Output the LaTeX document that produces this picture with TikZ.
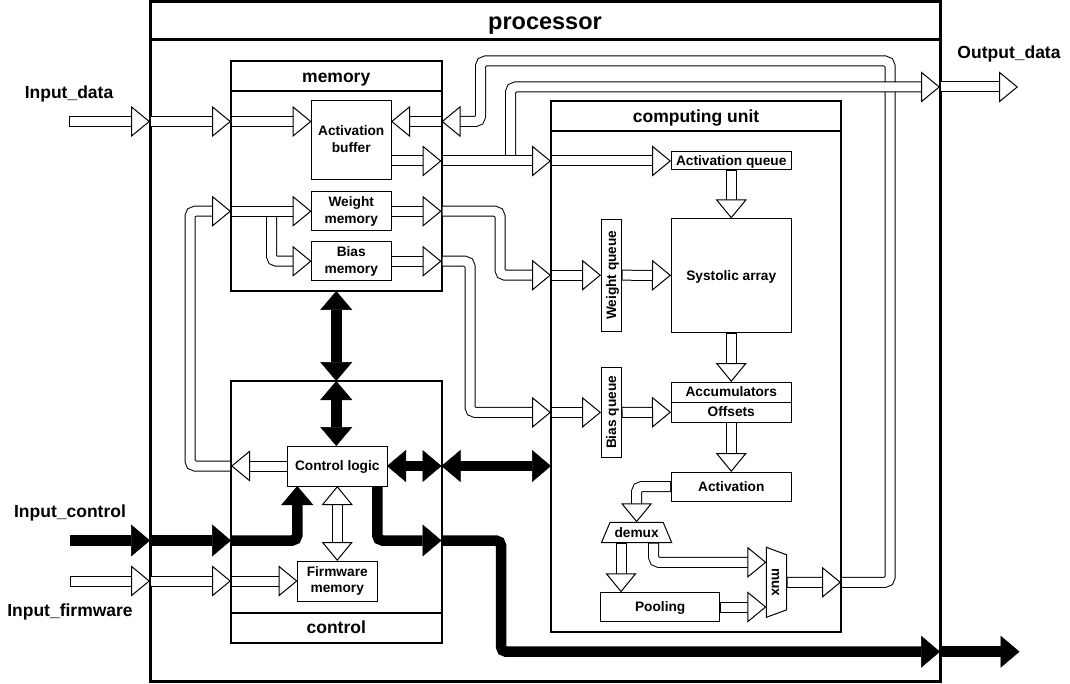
\documentclass[tikz,border=0pt]{standalone}
\usepackage{fontspec}
\setmainfont{Liberation Sans}
\usetikzlibrary{shapes.geometric, arrows.meta, positioning, calc}
\newcommand{\procfont}{\fontsize{23.5}{28}\selectfont\bfseries}
\newcommand{\lanefont}{\fontsize{17.5}{21}\selectfont\bfseries}
\newcommand{\blockfont}{\fontsize{13.7}{16.5}\selectfont\bfseries}
\tikzset{openhead/.tip={Triangle[width=31pt, length=19pt, line width=1pt, color=black, fill=white]},
         fullhead/.tip={Triangle[width=32pt, length=19pt, line width=0.5pt]}}
\tikzstyle{vtext} = [execute at begin node={\rule{0pt}{0.905em}}, execute at end node={\rule[-0.212em]{0pt}{0pt}}]
\tikzstyle{procbox} = [rectangle, draw, line width=3pt, inner sep=0pt, outer sep=0pt, minimum width=790pt, vtext]
\tikzstyle{lane} = [rectangle, draw, line width=2pt, inner sep=0pt, outer sep=0pt, minimum width=210.5pt, vtext]
\tikzstyle{lanetitle} = [lane, minimum height=30pt, font=\lanefont]
\tikzstyle{block} = [rectangle, draw, line width=1pt, inner sep=0pt, outer sep=0pt, align=center, font=\blockfont, fill=white, vtext]
\tikzstyle{queue} = [block, rotate=90, minimum height=20.5pt]
\tikzstyle{trap} = [trapezium, trapezium stretches body=true, draw, line width=1pt, inner sep=0pt, outer sep=0pt, font=\blockfont, fill=white, vtext]
\tikzstyle{portlabel} = [font=\lanefont, vtext]
\tikzstyle{flex} = [draw=white, line width=0.1pt, shorten <=1pt, -openhead,
  preaction={draw=black, line width=11pt, arrows=-, shorten <=0pt, shorten >=17pt},
  preaction={draw=white, line width=9pt, arrows=-, shorten <=1pt, shorten >=16pt}]
\tikzstyle{dflex} = [draw=white, line width=0.1pt, openhead-openhead,
  preaction={draw=black, line width=11pt, arrows=-, shorten <=17pt, shorten >=17pt},
  preaction={draw=white, line width=9pt, arrows=-, shorten <=16pt, shorten >=16pt}]
\tikzstyle{bus}  = [line width=10.5pt, -fullhead]
\tikzstyle{dbus} = [line width=10.5pt, fullhead-fullhead]

\begin{document}
\begin{tikzpicture}[x=1pt, y=-1pt]
	\useasboundingbox (0,0) rectangle (1070,684);

	% Processor
	\node (proc) [procbox, minimum height=679pt] at (545,341.5) {};
	\node (proc_title) [procbox, minimum height=38pt, anchor=north, font=\procfont] at (proc.north) {processor};

	% Memory, control and computing unit
	\node (mem) [lane, minimum height=230pt] at (336.25,176) {};
	\node (mem_title) [lanetitle, anchor=north] at (mem.north) {memory};
	\node (ctrlbox) [lane, minimum height=261.5pt] at (336.25,511.75) {};
	\node (ctrl_title) [lanetitle, anchor=south] at (ctrlbox.south) {control};
	\node (cu) [lane, minimum width=290pt, minimum height=530.8pt] at (696,366.9) {};
	\node (cu_title) [lanetitle, minimum width=290pt, anchor=north] at (cu.north) {computing unit};

	% Memory blocks
	\node (actbuf) [block, minimum width=79.5pt, minimum height=79pt] at (351.25,140.5) {Activation\\buffer};
	\node (wmem) [block, minimum width=79.5pt, minimum height=39.5pt, below=11.5pt of actbuf] {Weight\\memory};
	\node (bmem) [block, minimum width=79.5pt, minimum height=39.5pt, below=10.5pt of wmem] {Bias\\memory};

	% Control blocks
	\node (ctrl) [block, minimum width=99.5pt, minimum height=40pt] at (337.25,466) {Control logic};
	\node (fwmem) [block, minimum width=79.5pt, minimum height=40pt, below=75pt of ctrl] {Firmware\\memory};

	% Computing unit blocks
	\node (actq) [block, minimum width=120.5pt, minimum height=18pt] at (731.25,161) {Activation queue};
	\node (systolic) [block, minimum width=120.5pt, minimum height=114pt, below=48.5pt of actq] {Systolic array};
	\node (accum) [block, minimum width=120.5pt, minimum height=20pt, below=49.5pt of systolic] {Accumulators};
	\node (offs) [block, minimum width=120.5pt, minimum height=20pt, below=0pt of accum] {Offsets};
	\node (actv) [block, minimum width=120.5pt, minimum height=29pt, below=50pt of offs] {Activation};
	\node (wq) [queue, minimum width=112pt] at (611.25,275.2) {Weight queue};
	\node (bq) [queue, minimum width=90pt] at (611.25,412.4) {Bias queue};
	\node (demux) [trap, minimum width=70.3pt, minimum height=20.4pt, trapezium left angle=60.7, trapezium right angle=60.7] at (636.6,532.5) {demux};
	\node (pool) [block, minimum width=119pt, minimum height=29.4pt] at (660.2,607) {Pooling};
	\node (mux) [trap, rotate=-90, minimum width=70pt, minimum height=20.3pt, trapezium left angle=63.9, trapezium right angle=63.9] at (776.5,582.3) {mux};

	% Ports
	\coordinate (in_data) at (69,121.5);
	\coordinate (out_data) at (1018,87);
	\coordinate (in_ctrl) at (70,540.5);
	\coordinate (in_fw) at (70,581);
	\coordinate (out_ctrl) at (1019.5,651.7);
	\node (lbl_in_data) [portlabel] at (69,92) {Input\_data};
	\node (lbl_out_data) [portlabel] at (1009,52) {Output\_data};
	\node (lbl_in_ctrl) [portlabel] at (70,511) {Input\_control};
	\node (lbl_in_fw) [portlabel] at (70,610.7) {Input\_firmware};

	% Arrows - data in
	\draw[flex] (in_data) -- (proc.west |- in_data);
	\draw[flex] (proc.west |- in_data) -- (mem.west |- in_data);
	\draw[flex] (mem.west |- in_data) -- (actbuf.west |- in_data);

	% Arrows - result back to activation buffer
	\draw[flex, rounded corners=5pt] (cu.east |- mux) -| (890,61) -| (480.5,121.5) -- (mem.east |- in_data);
	\draw[flex] (mem.east |- in_data) -- (actbuf.east |- in_data);

	% Arrows - activations and output
	\draw[flex, rounded corners=5pt] ($(mem.east |- actq)+(69,0)$) |- (proc.east |- out_data);
	\draw[flex] (proc.east |- out_data) -- (out_data);
	\draw[flex] (actbuf.east |- actq) -- (mem.east |- actq);
	\draw[flex] (mem.east |- actq) -- (cu.west |- actq);
	\draw[flex] (cu.west |- actq) -- (actq);

	% Arrows - weights and biases
	\draw[flex] (wmem) -- (mem.east |- wmem);
	\draw[flex] (bmem) -- (mem.east |- bmem);
	\draw[flex, rounded corners=5pt] (mem.east |- wmem) -| ($(mem.east |- wq)+(58.5,0)$) -- (cu.west |- wq);
	\draw[flex, rounded corners=5pt] (mem.east |- bmem) -| ($(mem.east |- bq)+(28.5,0)$) -- (cu.west |- bq);
	\draw[flex] (cu.west |- wq) -- (wq);
	\draw[flex] (wq) -- (systolic);
	\draw[flex] (cu.west |- bq) -- (bq);
	\draw[flex] (bq) -- (offs);

	% Arrows - computing unit
	\draw[flex] (actq) -- (systolic);
	\draw[flex] (systolic) -- (accum);
	\draw[flex] (offs) -- (actv);
	\draw[flex, rounded corners=5pt] (actv.west) -| (demux);
	\coordinate (demux_l) at ($(demux.south)+(-15.6,0)$);
	\coordinate (demux_r) at ($(demux.south)+(17,0)$);
	\draw[flex] (demux_l) -- (demux_l |- pool.north);
	\draw[flex, rounded corners=5pt] (demux_r) |- ($(mux.south)+(0,-20)$);
	\draw[flex] (pool) -- (mux.south |- pool);
	\draw[flex] (mux) -- (cu.east |- mux);

	% Arrows - firmware and control feedback
	\draw[flex] (in_fw) -- (proc.west |- in_fw);
	\draw[flex] (proc.west |- in_fw) -- (ctrlbox.west |- in_fw);
	\draw[flex] (ctrlbox.west |- in_fw) -- (fwmem);
	\draw[dflex] (ctrl) -- (fwmem);
	\draw[flex] (ctrl) -- (ctrlbox.west |- ctrl);
	\draw[flex, rounded corners=5pt] (ctrlbox.west |- ctrl) -| ($(mem.west |- wmem)+(-41,0)$) -- (mem.west |- wmem);
	\draw[flex, rounded corners=5pt] ($(mem.west |- wmem)+(40.5,0)$) |- (bmem);
	\draw[flex] (mem.west |- wmem) -- (wmem);

	% Arrows - control bus
	\draw[bus] (in_ctrl) -- (proc.west |- in_ctrl);
	\draw[bus] (proc.west |- in_ctrl) -- (ctrlbox.west |- in_ctrl);
	\draw[bus, rounded corners=5pt] (ctrlbox.west |- in_ctrl) -| ($(ctrl.south)+(-40,0)$);
	\draw[bus, rounded corners=5pt] ($(ctrl.south)+(40,0)$) |- (ctrlbox.east |- in_ctrl);
	\draw[bus, rounded corners=5pt] (ctrlbox.east |- in_ctrl) -| ($(proc.east |- out_ctrl)+(-439,0)$) -- (proc.east |- out_ctrl);
	\draw[bus] (proc.east |- out_ctrl) -- (out_ctrl);
	\draw[dbus] (mem.south) -- (ctrlbox.north);
	\draw[dbus] (ctrlbox.north) -- (ctrlbox.north |- ctrl.north);
	\draw[dbus] (ctrl) -- (ctrlbox.east |- ctrl);
	\draw[dbus] (ctrlbox.east |- ctrl) -- (cu.west |- ctrl);

\end{tikzpicture}
\end{document}
